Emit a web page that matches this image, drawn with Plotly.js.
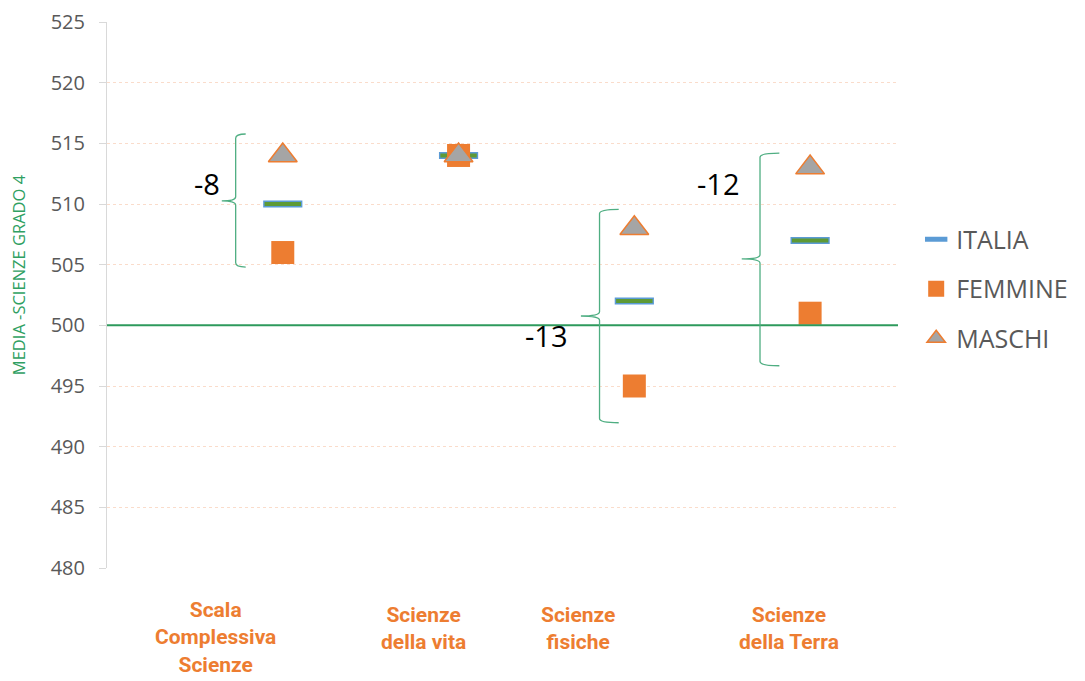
<!DOCTYPE html>
<html>
<head>
<meta charset="utf-8">
<script src="https://cdn.plot.ly/plotly-3.0.1.min.js"></script>
<style>html,body{margin:0;padding:0;background:#fff;}#chart{width:1085px;height:681px;}</style>
</head>
<body>
<div id="chart"></div>
<script>
// ---- data ----
const categories = ['Scala<br>Complessiva<br>Scienze', 'Scienze<br>della vita', 'Scienze<br>fisiche', 'Scienze<br>della Terra'];
const catX = [1, 2, 3, 4];
const italia = [510, 514, 502, 507];
const femmine = [506, 514, 495, 501];
const maschi = [514, 514, 508, 513];
const yTicks = [480, 485, 490, 495, 500, 505, 510, 515, 520, 525];
const seriesNames = ['ITALIA', 'FEMMINE', 'MASCHI'];
const yTitle = 'MEDIA -SCIENZE GRADO 4';
const baseline = 500;

// ---- layout helpers (positions only) ----
const labelPosX = [0.62, 1.80, 2.68, 3.88];
const labelPosY = [-0.1264, -0.1117, -0.1117, -0.1117];
const gapCats = [0, 2, 3]; // categories with brace + gap label
const gapTextPos = {0: [0.5675, 511.65], 2: [2.503, 499.2], 3: [3.479, 511.73]};
const braceGeom = {
  0: {tip: 0.653, spine: 0.732, end: 0.789, top: 515.77, mid: 510.25, bot: 504.8},
  2: {tip: 2.696, spine: 2.802, end: 2.911, top: 509.56, mid: 500.77, bot: 491.97},
  3: {tip: 3.611, spine: 3.715, end: 3.825, top: 514.2, mid: 505.47, bot: 496.67}
};

function bracePath(g) {
  const r = 0.35;
  return 'M' + g.end + ',' + g.top +
    ' Q' + g.spine + ',' + g.top + ' ' + g.spine + ',' + (g.top - r) +
    ' L' + g.spine + ',' + (g.mid + r) +
    ' Q' + g.spine + ',' + g.mid + ' ' + g.tip + ',' + g.mid +
    ' Q' + g.spine + ',' + g.mid + ' ' + g.spine + ',' + (g.mid - r) +
    ' L' + g.spine + ',' + (g.bot + r) +
    ' Q' + g.spine + ',' + g.bot + ' ' + g.end + ',' + g.bot;
}

const baseFont = 'Open Sans, Liberation Sans, sans-serif';

const traces = [
  {x: catX, y: italia, name: seriesNames[0], type: 'scatter', mode: 'markers', legendgroup: 'it',
   marker: {symbol: 'line-ew', size: 28, color: '#5b9bd5', line: {width: 7, color: '#5b9bd5'}}, hoverinfo: 'y'},
  {x: catX, y: italia, name: seriesNames[0], type: 'scatter', mode: 'markers', legendgroup: 'it', showlegend: false,
   marker: {symbol: 'line-ew', size: 26, color: '#5e9a35', line: {width: 4, color: '#5e9a35'}}, hoverinfo: 'skip'},
  {x: catX, y: femmine, name: seriesNames[1], type: 'scatter', mode: 'markers', legendgroup: 'f',
   marker: {symbol: 'square', size: 23, color: '#ed7d31', line: {width: 0}}},
  {x: catX, y: maschi, name: seriesNames[2], type: 'scatter', mode: 'markers', legendgroup: 'm',
   marker: {symbol: 'triangle-up', size: 25, color: '#a5a5a5', line: {width: 1.5, color: '#ed7d31'}}}
];

const annotations = [];
categories.forEach(function (c, i) {
  annotations.push({
    text: '<b>' + c + '</b>', x: labelPosX[i], y: labelPosY[i], xref: 'x', yref: 'paper',
    xanchor: 'center', yanchor: 'middle', showarrow: false, align: 'center',
    font: {family: 'Roboto, Open Sans, sans-serif', size: 21, color: '#ed7d31'}
  });
});
gapCats.forEach(function (i) {
  const gap = femmine[i] - maschi[i];
  annotations.push({
    text: String(gap), x: gapTextPos[i][0], y: gapTextPos[i][1], xref: 'x', yref: 'y',
    xanchor: 'center', yanchor: 'middle', showarrow: false,
    font: {family: baseFont, size: 29, color: '#000000'}
  });
});
annotations.push({
  text: yTitle, x: -0.112, y: 0.537, xref: 'paper', yref: 'paper', textangle: -90,
  xanchor: 'center', yanchor: 'middle', showarrow: false,
  font: {family: baseFont, size: 16.5, color: '#2fa062'}
});

const shapes = [
  {type: 'line', xref: 'paper', yref: 'y', x0: 0, x1: 1, y0: baseline, y1: baseline,
   line: {color: '#2e9a5c', width: 2}}
];
gapCats.forEach(function (i) {
  shapes.push({type: 'path', xref: 'x', yref: 'y', path: bracePath(braceGeom[i]),
    line: {color: '#4fae82', width: 1.3}, fillcolor: 'rgba(0,0,0,0)'});
});

const layout = {
  width: 1085, height: 681,
  margin: {l: 107, r: 182, t: 22, b: 113},
  paper_bgcolor: '#ffffff', plot_bgcolor: '#ffffff',
  font: {family: baseFont, color: '#595959'},
  showlegend: true,
  legend: {x: 1.023, y: 0.511, xanchor: 'left', yanchor: 'middle',
    font: {family: baseFont, size: 25, color: '#595959'}, tracegroupgap: 14, itemwidth: 30},
  xaxis: {range: [0, 4.5], showgrid: false, zeroline: false, showticklabels: false, ticks: '', showline: false, fixedrange: true},
  yaxis: {range: [480, 525], tickvals: yTicks, ticktext: yTicks.map(String), showgrid: true,
    gridcolor: '#fadccb', griddash: 'dot', gridwidth: 1, zeroline: false,
    showline: true, linecolor: '#d9d9d9', linewidth: 1, ticks: 'outside', ticklen: 7, tickcolor: '#d9d9d9',
    tickfont: {family: baseFont, size: 20, color: '#595959'}, ticklabelstandoff: 10, fixedrange: true},
  annotations: annotations,
  shapes: shapes
};

Plotly.newPlot('chart', traces, layout, {displayModeBar: false, staticPlot: true});
</script>
</body>
</html>
